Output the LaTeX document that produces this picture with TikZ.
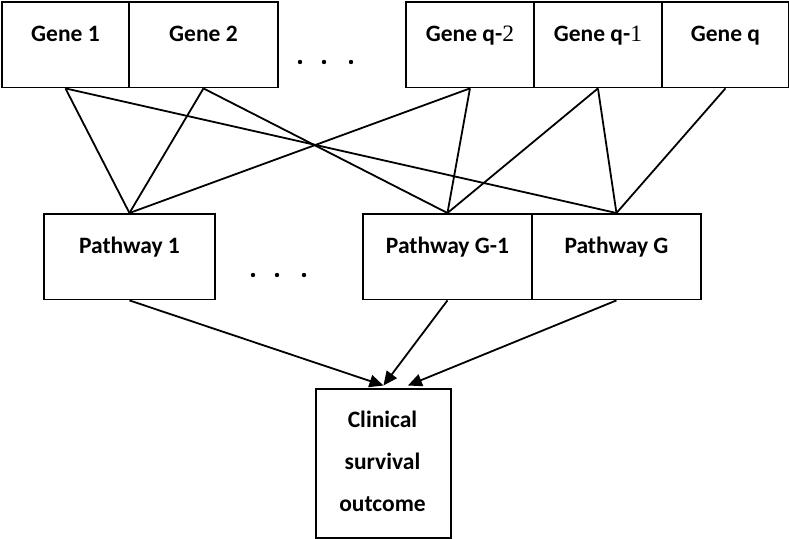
\documentclass[tikz,border=0pt]{standalone}
\usepackage{fontspec}
\setmainfont{Carlito}
\newfontfamily\serifdig{Liberation Serif}
\usetikzlibrary{arrows.meta,calc}
\begin{document}
\begin{tikzpicture}[x=1pt,y=-1pt,
  box/.style={draw=black,line width=1.9pt,inner sep=0pt,anchor=north west,
    text height=39.5pt,text depth=46pt,font=\fontsize{23.5}{28}\selectfont\bfseries},
  cbox/.style={draw=black,line width=1.9pt,inner sep=0pt,anchor=north west},
  ctext/.style={anchor=base,inner sep=0pt,font=\fontsize{23.5}{28}\selectfont\bfseries},
  link/.style={line width=1.8pt},
  arr/.style={line width=1.8pt,-{Triangle[length=14pt,width=12.5pt]}},
  dotm/.style={fill=black}]
\useasboundingbox (0,0) rectangle (789,538);
% genes
\node[box,minimum width=127pt] (g1) at (1,1) {Gene 1};
\node[box,minimum width=149pt] (g2) at (128,1) {Gene 2};
\node[box,minimum width=128pt] (gq2) at (405,1) {Gene q-{\serifdig\mdseries 2}};
\node[box,minimum width=128pt] (gq1) at (533,1) {Gene q-{\serifdig\mdseries 1}};
\node[box,minimum width=127pt] (gq) at (661,1) {Gene q};
% pathways
\node[box,minimum width=171pt] (p1) at (43,213) {Pathway 1};
\node[box,minimum width=169pt] (pg1) at (362,213) {Pathway G-1};
\node[box,minimum width=169pt] (pg) at (531,213) {Pathway G};
% outcome
\node[cbox,minimum width=135pt,minimum height=149pt] (clin) at (315,388) {};
\node[ctext] (c1) at (382.5,427) {Clinical};
\node[ctext] (c2) at (382.5,469) {survival};
\node[ctext] (c3) at (382.5,511) {outcome};
% dots
\fill[dotm] (300,62) circle (2.2pt) (324,62) circle (2.2pt) (351,62) circle (2.2pt);
\fill[dotm] (253,275) circle (2.2pt) (277,275) circle (2.2pt) (304,275) circle (2.2pt);
% gene-pathway links
\draw[link] (g1.south) -- (p1.north);
\draw[link] (g1.south) -- (pg.north);
\draw[link] (g2.south) -- (p1.north);
\draw[link] (g2.south) -- (pg1.north);
\draw[link] (gq2.south) -- (p1.north);
\draw[link] (gq2.south) -- (pg1.north);
\draw[link] (gq1.south) -- (pg1.north);
\draw[link] (gq1.south) -- (pg.north);
\draw[link] (gq.south) -- (pg.north);
% arrows
\coordinate (t1) at ($(clin.north)+(0,-2.5)$);
\coordinate (t2) at ($(clin.north)+(24.5,-2.5)$);
\draw[arr] (p1.south) -- (t1);
\draw[arr] (pg1.south) -- (t1);
\draw[arr] (pg.south) -- (t2);
\end{tikzpicture}
\end{document}
